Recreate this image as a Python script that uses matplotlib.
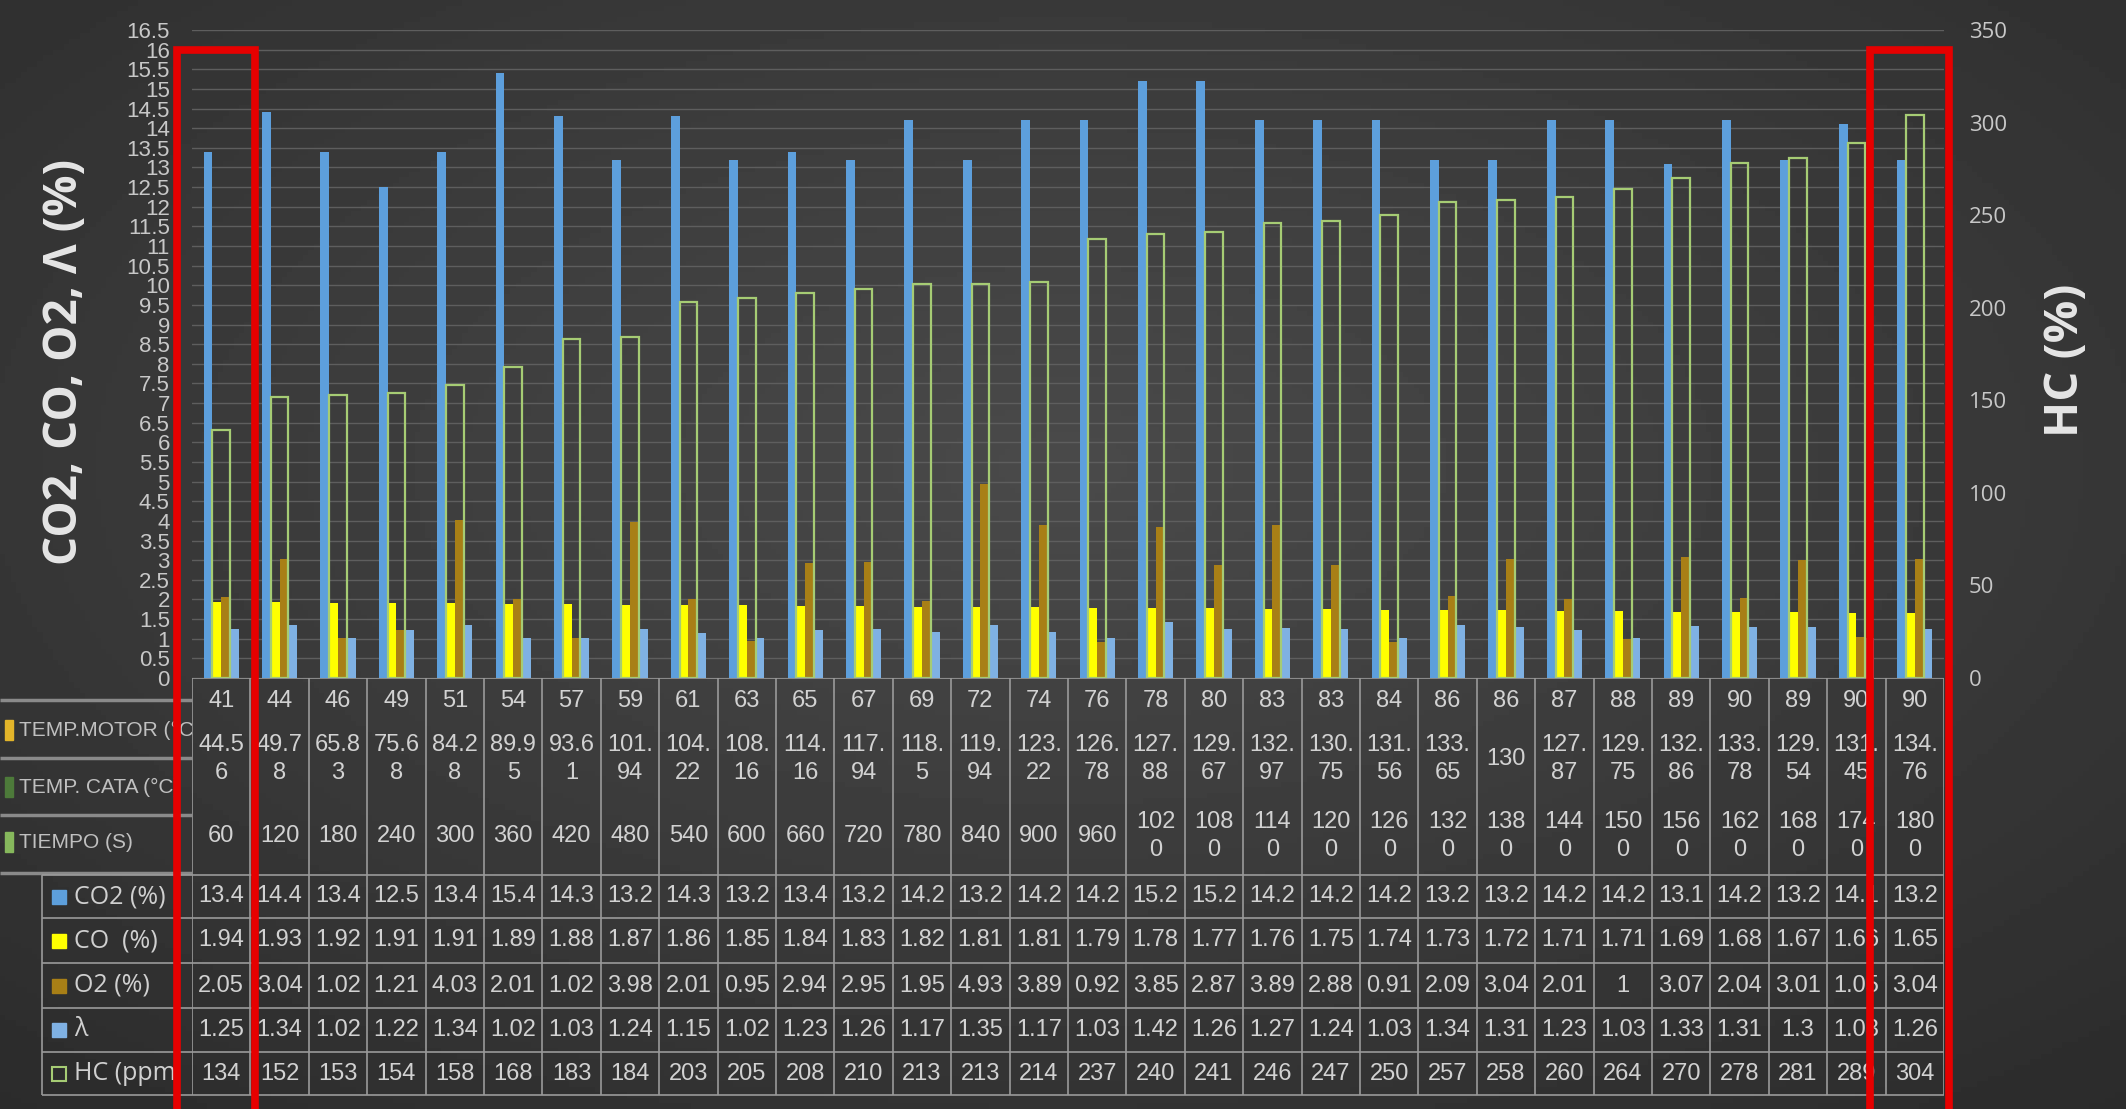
import matplotlib.pyplot as plt
import numpy as np
from matplotlib.patches import Rectangle
from matplotlib.transforms import blended_transform_factory

W, H = 2126, 1109
DPI = 100

# category levels
motor = [41, 44, 46, 49, 51, 54, 57, 59, 61, 63, 65, 67, 69, 72, 74, 76, 78, 80, 83, 83,
         84, 86, 86, 87, 88, 89, 90, 89, 90, 90]
cata = [44.56, 49.78, 65.83, 75.68, 84.28, 89.95, 93.61, 101.94, 104.22, 108.16, 114.16,
        117.94, 118.5, 119.94, 123.22, 126.78, 127.88, 129.67, 132.97, 130.75, 131.56,
        133.65, 130, 127.87, 129.75, 132.86, 133.78, 129.54, 131.45, 134.76]
tiempo = [60, 120, 180, 240, 300, 360, 420, 480, 540, 600, 660, 720, 780, 840, 900, 960,
          1020, 1080, 1140, 1200, 1260, 1320, 1380, 1440, 1500, 1560, 1620, 1680, 1740, 1800]

# series
co2 = [13.4, 14.4, 13.4, 12.5, 13.4, 15.4, 14.3, 13.2, 14.3, 13.2, 13.4, 13.2, 14.2, 13.2,
       14.2, 14.2, 15.2, 15.2, 14.2, 14.2, 14.2, 13.2, 13.2, 14.2, 14.2, 13.1, 14.2, 13.2,
       14.1, 13.2]
co = [1.94, 1.93, 1.92, 1.91, 1.91, 1.89, 1.88, 1.87, 1.86, 1.85, 1.84, 1.83, 1.82, 1.81,
      1.81, 1.79, 1.78, 1.77, 1.76, 1.75, 1.74, 1.73, 1.72, 1.71, 1.71, 1.69, 1.68, 1.67,
      1.66, 1.65]
o2 = [2.05, 3.04, 1.02, 1.21, 4.03, 2.01, 1.02, 3.98, 2.01, 0.95, 2.94, 2.95, 1.95, 4.93,
      3.89, 0.92, 3.85, 2.87, 3.89, 2.88, 0.91, 2.09, 3.04, 2.01, 1, 3.07, 2.04, 3.01,
      1.05, 3.04]
lam = [1.25, 1.34, 1.02, 1.22, 1.34, 1.02, 1.03, 1.24, 1.15, 1.02, 1.23, 1.26, 1.17, 1.35,
       1.17, 1.03, 1.42, 1.26, 1.27, 1.24, 1.03, 1.34, 1.31, 1.23, 1.03, 1.33, 1.31, 1.3,
       1.03, 1.26]
hc = [134, 152, 153, 154, 158, 168, 183, 184, 203, 205, 208, 210, 213, 213, 214, 237, 240,
      241, 246, 247, 250, 257, 258, 260, 264, 270, 278, 281, 289, 304]

level_names = ["TEMP.MOTOR (°C", "TEMP. CATA (°C)", "TIEMPO (S)"]
series_names = ["CO2 (%)", "CO  (%)", "O2 (%)", "λ", "HC (ppm"]
highlight = [0, 29]

c_co2 = "#5d9fdc"
c_co = "#ffff00"
c_o2 = "#a87f16"
c_lam = "#7fb1e3"
c_hc = "#a6cc74"
level_colors = ["#e3b52a", "#4d7a3a", "#86b85c"]
txt = "#d2d2d2"
line_c = "#9a9a9a"

NARROW = ["Liberation Sans", "DejaVu Sans"]
SANS = ["Open Sans", "DejaVu Sans"]


def fx(px):
    return px / W


def fy(py):
    return 1 - py / H


def wrap(s, limit=3.5):
    units = 0
    for k, ch in enumerate(s):
        units += 0.5 if ch == "." else 1.0
        if units > limit:
            return s[:k] + "\n" + s[k:]
    return s


fig = plt.figure(figsize=(W / DPI, H / DPI), dpi=DPI, facecolor="#333333")

# background glow
bg = fig.add_axes([0, 0, 1, 1], zorder=-10)
bg.axis("off")
yy, xx = np.mgrid[0:1:200j, 0:1:400j]
r = np.sqrt(((xx - 0.5) / 0.8) ** 2 + ((yy - 0.42) / 0.8) ** 2)
bg.imshow(0.29 - 0.125 * r, cmap="gray", vmin=0, vmax=1, extent=[0, 1, 0, 1], aspect="auto")

# main chart
ax = fig.add_axes([fx(192), fy(678), fx(1944) - fx(192), fy(30) - fy(678)])
ax.set_facecolor("none")
x = np.arange(len(motor))
bw = 0.15
ax.bar(x - 1.5 * bw, co2, bw, color=c_co2, zorder=2)
ax.bar(x - 0.5 * bw, co, bw, color=c_co, zorder=2)
ax.bar(x + 0.5 * bw, o2, bw, color=c_o2, zorder=2)
ax.bar(x + 1.5 * bw, lam, bw, color=c_lam, zorder=2)
ax.set_xlim(-0.5, len(motor) - 0.5)
ax.set_ylim(0, 16.5)
ax.set_yticks(np.arange(0, 16.51, 0.5))
ax.set_yticklabels(["%g" % v for v in np.arange(0, 16.51, 0.5)])
ax.set_xticks([])
ax.tick_params(axis="y", length=0, pad=16, labelcolor="#c8c8c8", labelsize=16)
for lab in ax.get_yticklabels():
    lab.set_family(NARROW)
ax.yaxis.grid(True, color="#5e5e5e", lw=1)
ax.set_axisbelow(True)
for s in ax.spines.values():
    s.set_visible(False)

ax2 = ax.twinx()
ax2.set_facecolor("none")
ax2.bar(x, hc, 2 * bw, facecolor="none", edgecolor=c_hc, lw=1.6, zorder=3)
ax2.set_ylim(0, 350)
ax2.set_yticks(np.arange(0, 351, 50))
ax2.tick_params(axis="y", length=0, pad=18, labelcolor="#c8c8c8", labelsize=16)
for lab in ax2.get_yticklabels():
    lab.set_family(SANS)
for s in ax2.spines.values():
    s.set_visible(False)

fig.text(fx(65), fy(362), "CO2, CO, O2, Λ (%)", rotation=90, ha="center", va="center",
         color="#e6e6e6", fontsize=33, fontweight="bold", family=SANS)
fig.text(fx(2066), fy(360), "HC (%)", rotation=90, ha="center", va="center",
         color="#e6e6e6", fontsize=34, fontweight="bold", family=SANS)

# data table under the chart (y in pixel rows)
tax = fig.add_axes([fx(192), 0, fx(1944) - fx(192), fy(678)])
tax.set_xlim(-0.5, len(motor) - 0.5)
tax.set_ylim(H, 678)
tax.axis("off")
row_lines = [875, 918, 963, 1008, 1052, 1095]
tax.hlines([678] + row_lines, -0.5, len(motor) - 0.5, color=line_c, lw=1.2)
tax.vlines(np.arange(-0.5, len(motor)), 678, 1095, color=line_c, lw=1.2)

level_y = [701, 759, 836]
for i in x:
    for vals, yv in zip([motor, cata, tiempo], level_y):
        tax.text(i, yv, wrap("%g" % vals[i]), ha="center", va="center", color=txt,
                 fontsize=17, family=NARROW, linespacing=1.3, multialignment="center")
    for k, vals in enumerate([co2, co, o2, lam, hc]):
        yv = (row_lines[k] + row_lines[k + 1]) / 2
        tax.text(i, yv, "%g" % vals[i], ha="center", va="center", color=txt,
                 fontsize=17, family=NARROW)

# row headers on the left
lax = fig.add_axes([0, 0, fx(192), fy(678)])
lax.set_xlim(0, 192)
lax.set_ylim(H, 678)
lax.axis("off")
lax.hlines([700, 758, 815, 873], 0, 192, color="#8a8a8a", lw=2.5)
lax.hlines(row_lines, 42, 192, color=line_c, lw=1.2)
lax.vlines(42, 875, 1095, color=line_c, lw=1.2)
for name, col, yv in zip(level_names, level_colors, [730, 787, 842]):
    lax.add_patch(Rectangle((5, yv - 10), 8, 20, color=col))
    t = lax.text(19, yv, name, ha="left", va="center", color="#c0c0c0", fontsize=15,
                 family=NARROW)
    t.set_clip_on(True)
sq_cols = [c_co2, c_co, c_o2, c_lam, None]
for k, (name, col) in enumerate(zip(series_names, sq_cols)):
    yv = (row_lines[k] + row_lines[k + 1]) / 2
    if col is None:
        lax.add_patch(Rectangle((52, yv - 7), 14, 14, facecolor="none", edgecolor=c_hc, lw=1.5))
    else:
        lax.add_patch(Rectangle((52, yv - 7), 14, 14, color=col))
    t = lax.text(74, yv, name, ha="left", va="center", color="#d0d0d0", fontsize=18,
                 family=SANS)
    t.set_clip_on(True)

# red highlight frames
tr = blended_transform_factory(ax.transData, fig.transFigure)
for k in highlight:
    fig.add_artist(Rectangle((k - 0.76, fy(1120)), 1.34, fy(50) - fy(1120), transform=tr,
                             fill=False, edgecolor="#e60000", lw=5.5, zorder=20))

fig.savefig("out.png", dpi=DPI, facecolor=fig.get_facecolor())
